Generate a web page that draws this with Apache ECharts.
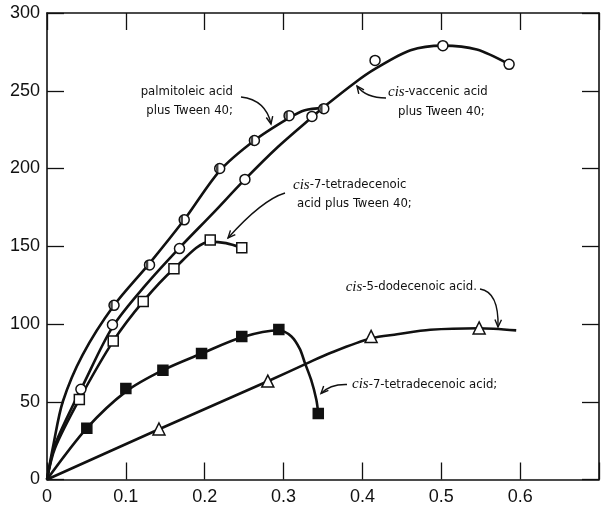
<!DOCTYPE html>
<html>
<head>
<meta charset="utf-8">
<script src="https://cdn.jsdelivr.net/npm/echarts@6/dist/echarts.min.js"></script>
<style>
html,body{margin:0;padding:0;background:#fff;}
#chart{width:602px;height:507px;}
</style>
</head>
<body>
<div id="chart"></div>
<script>
// ---- data ----
var xTicks = [0, 0.1, 0.2, 0.3, 0.4, 0.5, 0.6];
var yTicks = [0, 50, 100, 150, 200, 250, 300];

// palmitoleic acid plus Tween 40 (half-filled circles)
var palmPoints = [[0.085,112],[0.130,138],[0.174,167],[0.219,200],[0.263,218],[0.307,234],[0.351,238.5]];
var palmCurve  = [[0,0],[0.008,22],[0.02,50],[0.045,80],[0.085,112],[0.130,139],[0.174,167],[0.219,198.5],[0.263,218],[0.307,232.5],[0.327,237.5],[0.351,239]];

// cis-vaccenic acid plus Tween 40 (open circles)
var vaccPoints = [[0.043,58],[0.083,99.5],[0.168,148.5],[0.251,193],[0.336,233.5],[0.416,269.5],[0.502,279],[0.586,267]];
var vaccCurve  = [[0,0],[0.01,22],[0.035,50],[0.043,58],[0.083,98],[0.125,125],[0.168,149],[0.21,171],[0.251,193],[0.293,214],[0.336,233],[0.351,239.5],[0.39,255],[0.416,264],[0.461,276],[0.502,279],[0.545,276.5],[0.586,267]];

// cis-7-tetradecenoic acid plus Tween 40 (open squares)
var tetTwPoints = [[0.041,51.5],[0.084,89],[0.122,114.5],[0.161,135.5],[0.207,154],[0.247,149]];
var tetTwCurve  = [[0,0],[0.01,20],[0.041,51.5],[0.084,89],[0.122,114.5],[0.161,135.5],[0.207,153],[0.227,152],[0.247,149]];

// cis-7-tetradecenoic acid (filled squares)
var tetPoints = [[0.0505,33],[0.100,58.5],[0.147,70.3],[0.196,81],[0.247,92],[0.294,96.5],[0.344,42.5]];
var tetCurve  = [[0,0],[0.0505,33],[0.100,56.5],[0.147,70.3],[0.196,81],[0.247,91.5],[0.294,96],[0.310,92],[0.3206,84],[0.327,75],[0.335,64],[0.3415,51.5],[0.344,42.5]];

// cis-5-dodecenoic acid (open triangles)
var dodPoints = [[0.142,32.5],[0.280,63.3],[0.411,92],[0.548,97.5]];
var dodCurve  = [[0,0],[0.142,32.3],[0.280,63.2],[0.331,75],[0.36,81.5],[0.411,90.8],[0.444,93.4],[0.486,96.3],[0.547,97.3],[0.595,95.9]];

// ---- chart ----
var chart = echarts.init(document.getElementById('chart'), null, {renderer:'canvas'});
var INK = '#111';
var tickFont = 'Liberation Sans';
var noteFont = '"Liberation Sans Narrow", "DejaVu Sans Condensed", "Roboto Condensed", sans-serif';

function baseAxis(extra) {
  var a = {
    axisLine: {show:true, onZero:false, lineStyle:{color:INK, width:1.6}},
    axisTick: {show:true, inside:true, length:17, lineStyle:{color:INK, width:1.3}},
    splitLine: {show:false},
    axisLabel: {show:false}
  };
  for (var k in extra) a[k] = extra[k];
  return a;
}

function curveSeries(data) {
  return {type:'line', data:data, showSymbol:false, smooth:0.3,
    lineStyle:{color:INK, width:2.6}, silent:true, z:2, animation:false};
}
function pointSeries(data, symbol, size, fill) {
  return {type:'scatter', data:data, symbol:symbol, symbolSize:size,
    itemStyle:{color:fill, borderColor:INK, borderWidth:1.5, opacity:1}, z:5, silent:true, animation:false};
}

var halfDisk = 'path://M10,0 A10,10 0 0,0 10,20 Z';

var option = {
  animation:false,
  backgroundColor:'#fff',
  grid:{left:47, right:-2, top:13, bottom:27.5, containLabel:false},
  xAxis:[
    baseAxis({type:'value', min:0, max:0.7, interval:0.1, position:'bottom',
      axisLabel:{show:true, margin:9, color:INK, fontFamily:tickFont, fontSize:18,
        formatter:function(v){ var r=Math.round(v*10)/10; return xTicks.indexOf(r)>=0 ? String(r) : ''; }}}),
    baseAxis({type:'value', min:0, max:0.7, interval:0.1, position:'top'})
  ],
  yAxis:[
    baseAxis({type:'value', min:0, max:300, interval:50, position:'left',
      axisLabel:{show:true, margin:7, color:INK, fontFamily:tickFont, fontSize:18,
        formatter:function(v){ return yTicks.indexOf(v)>=0 ? String(v) : ''; }}}),
    baseAxis({type:'value', min:0, max:300, interval:50, position:'right'})
  ],
  series:[
    curveSeries(palmCurve),
    curveSeries(vaccCurve),
    curveSeries(tetTwCurve),
    curveSeries(tetCurve),
    curveSeries(dodCurve),
    pointSeries(palmPoints, 'circle', 10, '#fff'),
    {type:'scatter', data:palmPoints, symbol:halfDisk, symbolSize:[5,10], symbolKeepAspect:true,
      symbolOffset:[-2.5,0], itemStyle:{color:INK, borderWidth:0}, z:6, silent:true, animation:false},
    pointSeries(vaccPoints, 'circle', 10, '#fff'),
    pointSeries(tetTwPoints, 'rect', 10, '#fff'),
    pointSeries(tetPoints, 'rect', 10, INK),
    pointSeries(dodPoints, 'triangle', 12, '#fff')
  ]
};

// ---- annotations ----
function noteText(lines, x, y, align) {
  var els = [];
  for (var i=0;i<lines.length;i++) {
    els.push({type:'text', silent:true, z:10,
      style:{text:lines[i], x:x[i], y:y[i], fill:INK, fontFamily:noteFont, fontSize:13,
        textAlign:align, textVerticalAlign:'middle',
        rich:{i:{fontFamily:'"Liberation Serif", serif', fontStyle:'italic', fontSize:15, fill:INK}}}});
  }
  return els;
}
function arrow(x1,y1,cx,cy,x2,y2) {
  var dx = x2-cx, dy = y2-cy, L = Math.sqrt(dx*dx+dy*dy); dx/=L; dy/=L;
  var len = 8, ang = 0.42;
  function rot(a){ return [x2 - len*(dx*Math.cos(a) - dy*Math.sin(a)), y2 - len*(dx*Math.sin(a) + dy*Math.cos(a))]; }
  var p1 = rot(ang), p2 = rot(-ang);
  return [
    {type:'bezierCurve', silent:true, z:10, shape:{x1:x1,y1:y1,x2:x2,y2:y2,cpx1:cx,cpy1:cy},
      style:{stroke:INK, lineWidth:1.4, fill:null}},
    {type:'polyline', silent:true, z:10, shape:{points:[p1,[x2,y2],p2]},
      style:{stroke:INK, lineWidth:1.4, fill:null}}
  ];
}

var g = [];
g = g.concat(noteText(['palmitoleic acid','plus Tween 40;'], [233,233], [92,111], 'right'));
g = g.concat(arrow(241,97, 266,100, 271,124));
g = g.concat(noteText(['{i|cis}-vaccenic acid','plus Tween 40;'], [388,398], [92,112], 'left'));
g = g.concat(arrow(386,98, 366,98, 357,86));
g = g.concat(noteText(['{i|cis}-7-tetradecenoic','acid plus Tween 40;'], [293,297], [185,203.5], 'left'));
g = g.concat(arrow(285,193, 262,200, 228,238));
g = g.concat(noteText(['{i|cis}-5-dodecenoic acid.'], [477], [287], 'right'));
g = g.concat(arrow(480,289, 499,292, 498,327));
g = g.concat(noteText(['{i|cis}-7-tetradecenoic acid;'], [352], [384.5], 'left'));
g = g.concat(arrow(347,384.5, 330,384, 321,393.5));
option.graphic = g;

chart.setOption(option);
</script>
</body>
</html>
